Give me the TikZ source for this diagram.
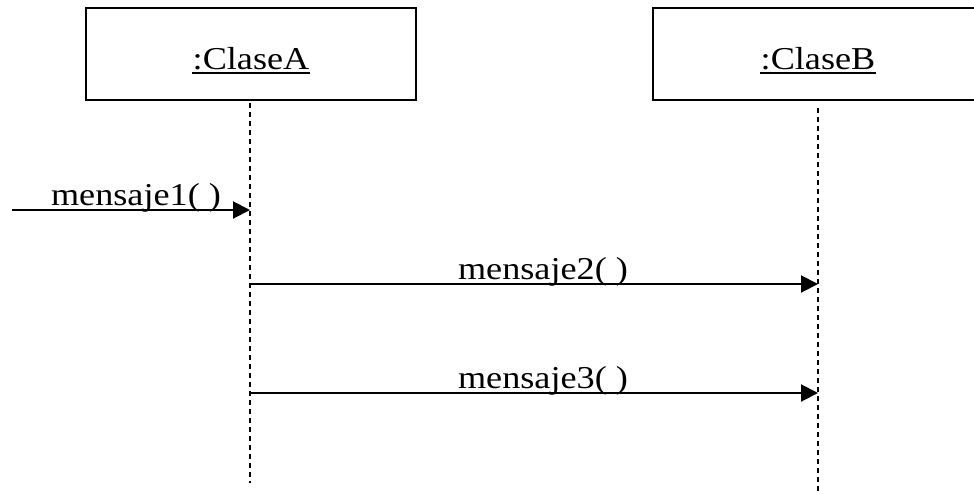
\documentclass[tikz,border=0pt]{standalone}
\usepackage{fontspec}
\setmainfont{Liberation Serif}
\usetikzlibrary{arrows.meta}
\newcommand{\sqtxt}[1]{\scalebox{1}[0.88]{#1}}
\begin{document}
\begin{tikzpicture}[x=1pt,y=-1pt,
  objbox/.style={draw,line width=2pt,minimum width=330pt,minimum height=92pt,inner sep=0pt},
  lbl/.style={font=\fontsize{36.2}{40}\selectfont,inner sep=0pt,anchor=base},
  uline/.style={line width=2.6pt},
  lifeline/.style={line width=2.8pt,dash pattern=on 5pt off 4pt},
  msg/.style={line width=2pt,-{Triangle[length=17pt,width=17pt]}}]
\useasboundingbox (0,0) rectangle (974,493);
\node[objbox] (A) at (251,54) {};
\node[objbox] (B) at (818,54) {};
\node[lbl] (tA) at (251,69) {\sqtxt{:ClaseA}};
\node[lbl] (tB) at (818,69) {\sqtxt{:ClaseB}};
\draw[uline] ([yshift=-4pt]tA.base west) -- ([yshift=-4pt]tA.base east);
\draw[uline] ([yshift=-4pt]tB.base west) -- ([yshift=-4pt]tB.base east);
\coordinate (Atop) at (250,103);
\coordinate (Abot) at (250,483);
\coordinate (Btop) at (818,108);
\coordinate (Bbot) at (818,493);
\draw[lifeline] (Atop) -- (Abot);
\draw[lifeline] (Btop) -- (Bbot);
\coordinate (s1) at (12,210);
\coordinate (e1) at (250,210);
\coordinate (s2) at (250,284);
\coordinate (e2) at (818,284);
\coordinate (s3) at (250,393);
\coordinate (e3) at (818,393);
\draw[msg] (s1) -- (e1);
\draw[msg] (s2) -- (e2);
\draw[msg] (s3) -- (e3);
\node[lbl] (m1) at (136,205) {\sqtxt{mensaje1( )}};
\node[lbl] (m2) at (543,279) {\sqtxt{mensaje2( )}};
\node[lbl] (m3) at (543,388) {\sqtxt{mensaje3( )}};
\end{tikzpicture}
\end{document}
